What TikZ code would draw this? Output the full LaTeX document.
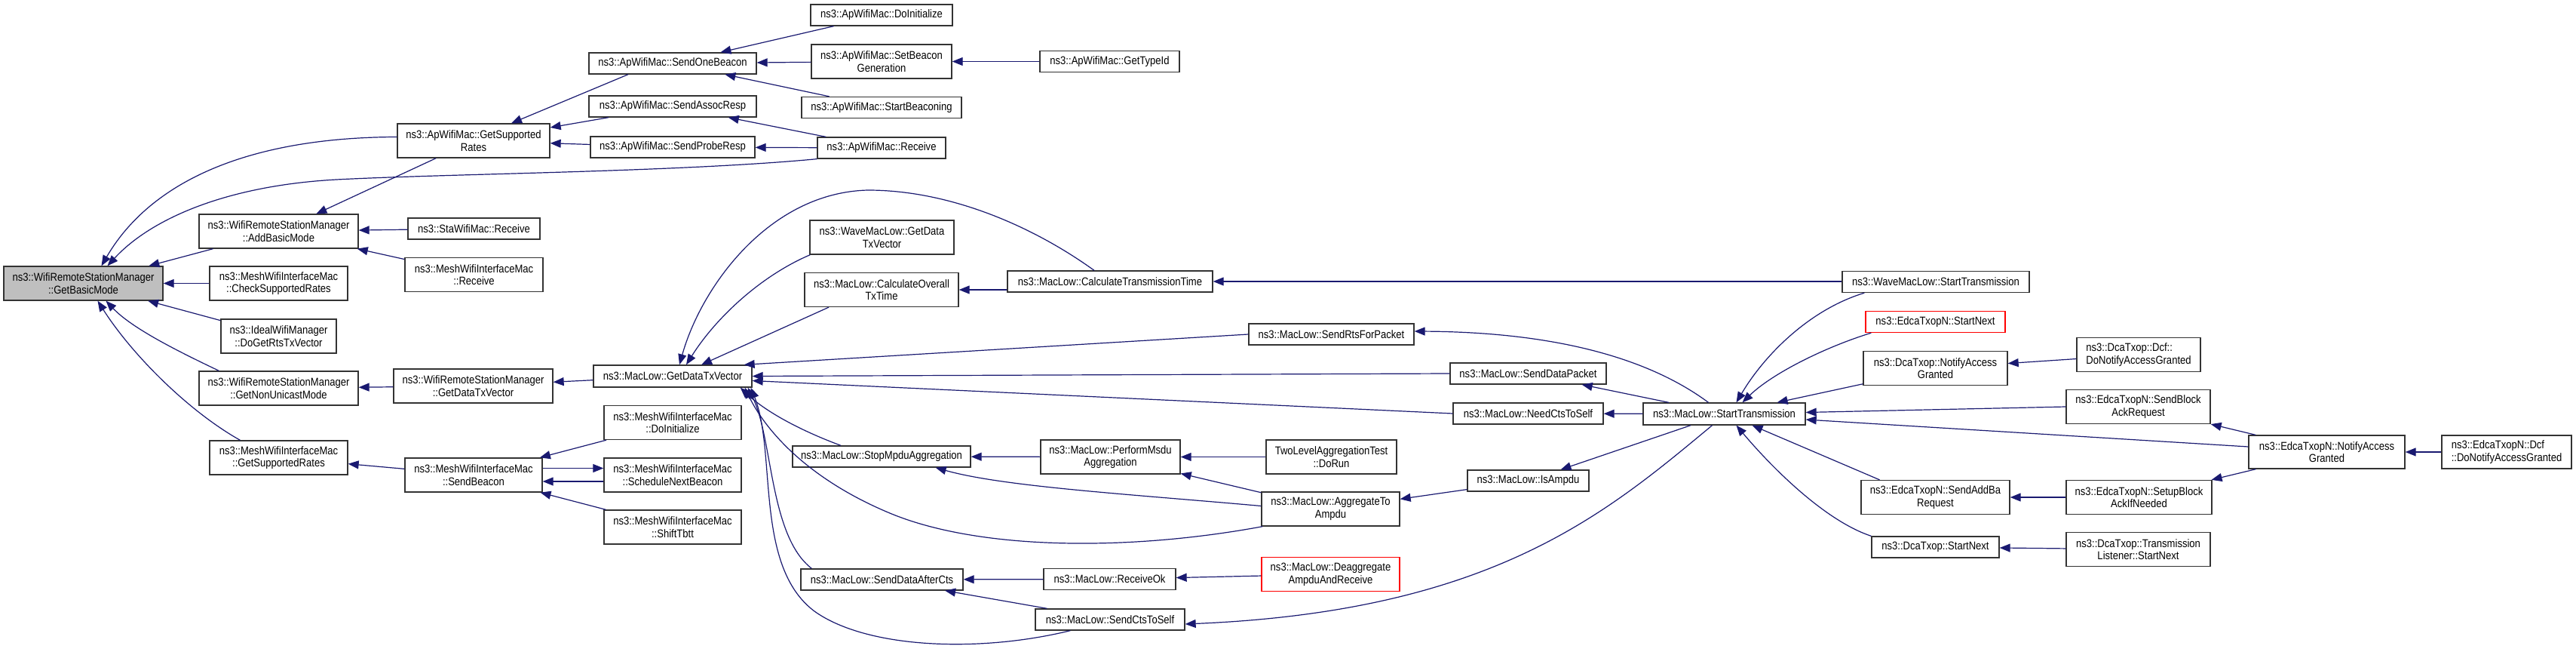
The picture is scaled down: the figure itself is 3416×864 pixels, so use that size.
\documentclass[tikz,border=0pt]{standalone}
\usepackage{fontspec}
\setmainfont{Liberation Sans}[FakeStretch=0.87]
\usetikzlibrary{arrows.meta}
\definecolor{midnightblue}{HTML}{191970}
\definecolor{rootgray}{HTML}{BFBFBF}

\begin{document}
\begin{tikzpicture}[x=1pt, y=-1pt,
    fn/.style={draw=black!80, fill=white, line width=1.3pt, font=\fontsize{15}{16.7}\selectfont, inner xsep=3pt, inner ysep=0pt, minimum height=28pt, align=center},
    fntwo/.style={fn, minimum height=45pt},
    rootfn/.style={fntwo, fill=rootgray},
    redfn/.style={draw=red},
    call/.style={draw=midnightblue, line width=1.2pt, -{Triangle[length=14pt,width=11pt]}},
]
    \useasboundingbox (0,0) rectangle (3416,864);

    %Nodes
    \node[rootfn, minimum width=211pt] (gbm) at (110.5,375.5) {ns3::WifiRemoteStationManager\\::GetBasicMode};

    \node[fntwo, minimum width=211pt] (abm) at (369.5,306.5) {ns3::WifiRemoteStationManager\\::AddBasicMode};
    \node[fntwo, minimum width=183pt] (csr) at (369.5,375.5) {ns3::MeshWifiInterfaceMac\\::CheckSupportedRates};
    \node[fntwo, minimum width=153pt] (idl) at (369.5,445.5) {ns3::IdealWifiManager\\::DoGetRtsTxVector};
    \node[fntwo, minimum width=211pt] (gnum) at (369.5,514.5) {ns3::WifiRemoteStationManager\\::GetNonUnicastMode};
    \node[fntwo, minimum width=183pt] (mgsr) at (369.5,606.5) {ns3::MeshWifiInterfaceMac\\::GetSupportedRates};

    \node[fntwo, minimum width=202pt] (apgsr) at (628,186.5) {ns3::ApWifiMac::GetSupported\\Rates};
    \node[fn, minimum width=175pt] (sta) at (628.5,303) {ns3::StaWifiMac::Receive};
    \node[fntwo, minimum width=183pt] (mrcv) at (628.5,364) {ns3::MeshWifiInterfaceMac\\::Receive};
    \node[fntwo, minimum width=211pt] (wgdtv) at (627.5,511.5) {ns3::WifiRemoteStationManager\\::GetDataTxVector};
    \node[fntwo, minimum width=182pt] (sbcn) at (628,629.5) {ns3::MeshWifiInterfaceMac\\::SendBeacon};

    \node[fn, minimum width=222pt] (sob) at (892,84) {ns3::ApWifiMac::SendOneBeacon};
    \node[fn, minimum width=222pt] (sar) at (892,141) {ns3::ApWifiMac::SendAssocResp};
    \node[fn, minimum width=218pt] (spr) at (892,195) {ns3::ApWifiMac::SendProbeResp};
    \node[fn, minimum width=210pt, minimum height=29pt] (mgdtv) at (892,498.5) {ns3::MacLow::GetDataTxVector};
    \node[fntwo, minimum width=182pt] (mdoi) at (892,560) {ns3::MeshWifiInterfaceMac\\::DoInitialize};
    \node[fntwo, minimum width=182pt] (snb) at (892,629.5) {ns3::MeshWifiInterfaceMac\\::ScheduleNextBeacon};
    \node[fntwo, minimum width=182pt] (stb) at (892,698.5) {ns3::MeshWifiInterfaceMac\\::ShiftTbtt};

    \node[fn, minimum width=188pt] (apdoi) at (1169,20) {ns3::ApWifiMac::DoInitialize};
    \node[fntwo, minimum width=186pt] (sbg) at (1169,81.5) {ns3::ApWifiMac::SetBeacon\\Generation};
    \node[fn, minimum width=212pt] (stbc) at (1169,142.5) {ns3::ApWifiMac::StartBeaconing};
    \node[fn, minimum width=170pt] (aprcv) at (1169,196) {ns3::ApWifiMac::Receive};
    \node[fntwo, minimum width=191pt] (wvgdtv) at (1169.5,314.5) {ns3::WaveMacLow::GetData\\TxVector};
    \node[fntwo, minimum width=204pt] (coat) at (1169,384) {ns3::MacLow::CalculateOverall\\TxTime};
    \node[fn, minimum width=236pt] (smpa) at (1169,605) {ns3::MacLow::StopMpduAggregation};
    \node[fn, minimum width=215pt] (sdac) at (1169.5,768) {ns3::MacLow::SendDataAfterCts};

    \node[fn, minimum width=185pt] (gtid) at (1471.5,81.5) {ns3::ApWifiMac::GetTypeId};
    \node[fn, minimum width=272pt] (ctt) at (1472,373) {ns3::MacLow::CalculateTransmissionTime};
    \node[fntwo, minimum width=185pt] (pma) at (1472.5,605.5) {ns3::MacLow::PerformMsdu\\Aggregation};
    \node[fn, minimum width=175pt] (rok) at (1471.5,767.5) {ns3::MacLow::ReceiveOk};
    \node[fn, minimum width=198pt] (scts) at (1472,821) {ns3::MacLow::SendCtsToSelf};

    \node[fn, minimum width=219pt] (srfp) at (1765.5,443) {ns3::MacLow::SendRtsForPacket};
    \node[fntwo, minimum width=173pt] (tla) at (1765.5,605.5) {TwoLevelAggregationTest\\::DoRun};
    \node[fntwo, minimum width=183pt] (ata) at (1764.5,674.5) {ns3::MacLow::AggregateTo\\Ampdu};
    \node[fntwo, redfn, minimum width=183pt] (dar) at (1764.5,761) {ns3::MacLow::Deaggregate\\AmpduAndReceive};

    \node[fn, minimum width=207pt] (sdp) at (2026.5,495) {ns3::MacLow::SendDataPacket};
    \node[fn, minimum width=199pt] (ncts) at (2026.5,548) {ns3::MacLow::NeedCtsToSelf};
    \node[fn, minimum width=161pt] (isa) at (2026.5,637) {ns3::MacLow::IsAmpdu};

    \node[fn, minimum width=215pt, minimum height=29pt] (mst) at (2286.5,548.5) {ns3::MacLow::StartTransmission};

    \node[fn, minimum width=248pt] (wst) at (2567,373.5) {ns3::WaveMacLow::StartTransmission};
    \node[fn, redfn, minimum width=185pt] (esn) at (2566.5,426.5) {ns3::EdcaTxopN::StartNext};
    \node[fntwo, minimum width=191pt] (dnag) at (2566.5,488) {ns3::DcaTxop::NotifyAccess\\Granted};
    \node[fntwo, minimum width=197pt] (esaba) at (2566.5,659) {ns3::EdcaTxopN::SendAddBa\\Request};
    \node[fn, minimum width=169pt] (dsn) at (2566.5,725) {ns3::DcaTxop::StartNext};

    \node[fntwo, align=left, minimum width=164pt] (ddnag) at (2836,470) {ns3::DcaTxop::Dcf::\\DoNotifyAccessGranted};
    \node[fntwo, minimum width=191pt] (esbar) at (2835.5,539) {ns3::EdcaTxopN::SendBlock\\AckRequest};
    \node[fntwo, minimum width=193pt] (esbn) at (2836.5,659) {ns3::EdcaTxopN::SetupBlock\\AckIfNeeded};
    \node[fntwo, minimum width=191pt] (dtlsn) at (2835.5,728) {ns3::DcaTxop::Transmission\\Listener::StartNext};

    \node[fntwo, minimum width=207pt, minimum height=44pt] (enag) at (3085.5,599) {ns3::EdcaTxopN::NotifyAccess\\Granted};
    \node[fntwo, align=left, minimum width=172pt, minimum height=44pt] (ednag) at (3324,599) {ns3::EdcaTxopN::Dcf\\::DoNotifyAccessGranted};

    %Lines
    \draw[call] ([yshift=5pt]apgsr.west) .. controls (330,182) and (200,240) .. ([xshift=24pt]gbm.north);
    \draw[call] (aprcv.south west) .. controls (900,228) and (600,230) .. (446,238) .. controls (300,246) and (200,290) .. ([xshift=32pt]gbm.north);
    \draw[call] (abm) -- (gbm);
    \draw[call] (csr) -- (gbm);
    \draw[call] (idl) -- (gbm);
    \draw[call] ([xshift=27pt]gnum.north west) .. controls (235,465) and (175,435) .. ([xshift=30pt]gbm.south);
    \draw[call] ([xshift=-51pt]mgsr.north) .. controls (250,545) and (175,470) .. ([xshift=19pt]gbm.south);

    \draw[call] (apgsr) -- (abm);
    \draw[call] (sta) -- (abm);
    \draw[call] (mrcv) -- (abm);
    \draw[call] (wgdtv) -- (gnum);
    \draw[call] (sbcn) -- (mgsr);

    \draw[call] ([xshift=-59pt]sob.south) -- ([xshift=50pt]apgsr.north);
    \draw[call] (sar) -- (apgsr);
    \draw[call] (spr) -- (apgsr);
    \draw[call] (mgdtv) -- (wgdtv);
    \draw[call] (mdoi) -- (sbcn);
    \draw[call] ([yshift=9pt]sbcn.east) -- ([yshift=9pt]snb.west);
    \draw[call] ([yshift=-8.5pt]snb.west) -- ([yshift=-8.5pt]sbcn.east);
    \draw[call] (stb) -- (sbcn);

    \draw[call] (apdoi) -- (sob);
    \draw[call] (sbg) -- (sob);
    \draw[call] (stbc) -- (sob);
    \draw[call] (aprcv) -- (sar);
    \draw[call] (aprcv) -- (spr);
    \draw[call] (gtid) -- (sbg);

    \draw[call] ([xshift=1pt]wvgdtv.south west) .. controls (1010,365) and (950,420) .. ([xshift=18pt]mgdtv.north);
    \draw[call] ([xshift=-70pt]coat.south) -- ([xshift=38pt]mgdtv.north);
    \draw[call] ([xshift=-21pt]ctt.north) .. controls (1370,300) and (1260,252) .. (1151,252) .. controls (1020,255) and (930,380) .. ([xshift=9pt]mgdtv.north);
    \draw[call] (wst.west |- ctt.east) -- (ctt.east);
    \draw[call] (ctt.west |- coat.east) -- (coat.east);
    \draw[call] (srfp.west) -- ([xshift=-11pt]mgdtv.north east);
    \draw[call] (sdp.west) -- (mgdtv.east);
    \draw[call] (ncts.west) -- ([yshift=-6pt]mgdtv.east);
    \draw[call] ([xshift=-54pt]smpa.north) .. controls (1060,570) and (1015,545) .. ([xshift=-16pt]mgdtv.south east);
    \draw[call] ([xshift=2pt]ata.south west) .. controls (1500,730) and (1300,730) .. (1180,680) .. controls (1060,630) and (1010,560) .. ([xshift=-10pt]mgdtv.south east);
    \draw[call] ([xshift=15pt]sdac.north west) .. controls (1020,710) and (1025,580) .. ([xshift=-6pt]mgdtv.south east);
    \draw[call] ([xshift=47pt]scts.south west) .. controls (1300,865) and (1150,860) .. (1080,810) .. controls (1000,750) and (1030,600) .. ([xshift=-2pt]mgdtv.south east);

    \draw[call] (pma) -- (smpa);
    \draw[call] ([yshift=4pt]ata.west) .. controls (1500,655) and (1330,645) .. ([xshift=-47pt]smpa.south east);
    \draw[call] (rok) -- (sdac);
    \draw[call] (scts) -- (sdac);
    \draw[call] (tla) -- (pma);
    \draw[call] (ata) -- (pma);
    \draw[call] (dar) -- (rok);
    \draw[call] (isa) -- (ata);

    \draw[call] ([xshift=-16pt]mst.south) .. controls (2130,680) and (1980,810) .. ([yshift=-6pt]scts.east);
    \draw[call] ([xshift=-21pt]mst.north) .. controls (2180,470) and (2050,440) .. ([yshift=4pt]srfp.east);
    \draw[call] (mst) -- (sdp);
    \draw[call] (mst) -- (ncts);
    \draw[call] (mst) -- (isa);

    \draw[call] ([xshift=30pt]wst.south west) .. controls (2400,410) and (2340,470) .. ([xshift=16pt]mst.north);
    \draw[call] ([xshift=8pt]esn.south west) .. controls (2420,460) and (2350,495) .. ([xshift=24pt]mst.north);
    \draw[call] (dnag) -- (mst);
    \draw[call] (esbar.west) -- ([yshift=2pt]mst.east);
    \draw[call] ([yshift=7pt]enag.west) -- ([yshift=-7.5pt]mst.east);
    \draw[call] ([xshift=-74pt]esaba.north) -- ([xshift=37pt]mst.south);
    \draw[call] (dsn.north west) .. controls (2420,690) and (2350,620) .. ([xshift=16pt]mst.south);

    \draw[call] (ddnag) -- (dnag);
    \draw[call] (esbn) -- (esaba);
    \draw[call] (dtlsn) -- (dsn);
    \draw[call] (enag) -- (esbar);
    \draw[call] (enag) -- (esbn);
    \draw[call] (ednag) -- (enag);
\end{tikzpicture}
\end{document}
